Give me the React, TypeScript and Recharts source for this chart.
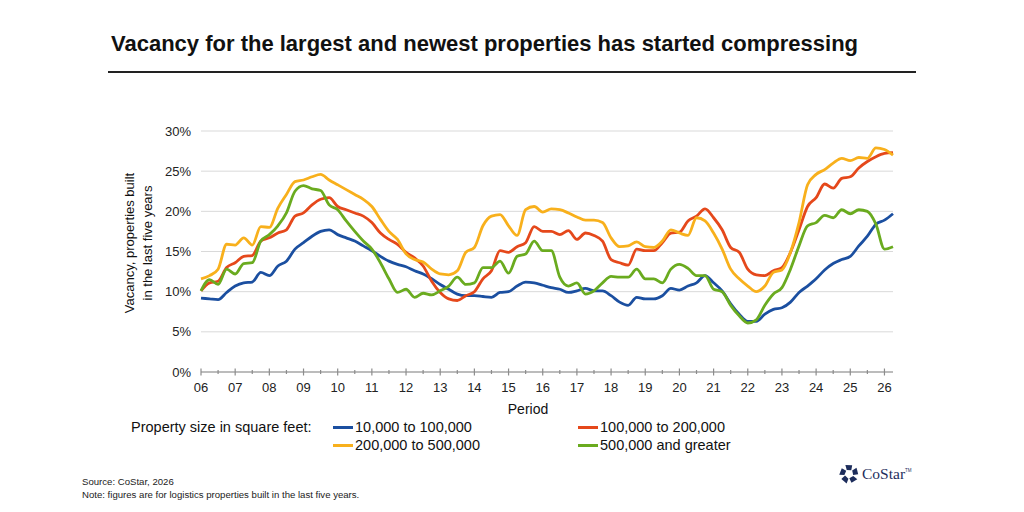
import React from 'react';
import { LineChart, Line, XAxis, YAxis, CartesianGrid, Legend } from 'recharts';

// Quarterly vacancy (%) for logistics properties built in the last five years,
// starting 2006 Q1 and ending 2026 Q2.
const START_YEAR = 2006;

const SMALL = [
  9.2, 9.1, 9.0, 9.9, 10.7, 11.1, 11.2, 12.4, 12.0, 13.2, 13.8, 15.3,
  16.1, 16.9, 17.5, 17.7, 17.1, 16.7, 16.3, 15.7, 15.1, 14.4, 13.8, 13.4,
  13.1, 12.6, 12.2, 11.6, 10.9, 10.3, 9.7, 9.5, 9.5, 9.4, 9.3, 9.9,
  10.0, 10.7, 11.2, 11.1, 10.8, 10.5, 10.3, 9.9, 10.1, 10.4, 10.1, 10.1,
  9.5, 8.7, 8.3, 9.3, 9.1, 9.1, 9.5, 10.4, 10.2, 10.7, 11.1, 12.0,
  11.1, 10.1, 8.5, 7.2, 6.3, 6.3, 7.2, 7.8, 8.0, 8.7, 9.9, 10.7,
  11.6, 12.7, 13.5, 14.0, 14.4, 15.7, 16.9, 18.4, 18.9, 19.7,
];

const MID = [
  10.1, 11.1, 11.3, 13.0, 13.6, 14.4, 14.5, 16.3, 16.7, 17.3, 17.7, 19.4,
  19.8, 20.8, 21.5, 21.7, 20.6, 20.2, 19.8, 19.4, 18.6, 17.3, 16.5, 15.9,
  14.9, 14.2, 13.2, 11.3, 9.9, 9.1, 8.9, 9.5, 10.0, 11.6, 12.6, 15.1,
  14.9, 15.6, 16.1, 18.1, 17.5, 17.5, 17.1, 17.6, 16.5, 17.3, 17.0, 16.3,
  14.0, 13.6, 13.3, 15.3, 15.1, 15.1, 16.1, 17.3, 17.4, 18.8, 19.4, 20.3,
  19.2, 17.7, 15.5, 14.9, 12.8, 12.1, 12.0, 12.6, 13.0, 14.9, 17.7, 20.6,
  21.7, 23.4, 22.9, 24.1, 24.3, 25.4, 26.2, 26.8, 27.2, 27.3,
];

const LARGE = [
  11.6, 12.0, 12.8, 15.9, 15.8, 16.7, 15.8, 18.1, 18.0, 20.4, 22.1, 23.7,
  23.9, 24.3, 24.6, 23.9, 23.3, 22.7, 22.1, 21.5, 20.6, 19.0, 17.5, 16.5,
  14.7, 14.0, 13.7, 12.8, 12.2, 12.1, 12.6, 14.9, 15.5, 18.2, 19.4, 19.6,
  18.2, 17.0, 20.2, 20.6, 19.9, 20.3, 20.2, 19.8, 19.3, 18.9, 18.9, 18.6,
  16.7, 15.6, 15.7, 16.2, 15.6, 15.5, 16.3, 17.7, 17.3, 17.0, 19.2, 18.8,
  17.3, 15.3, 12.8, 11.6, 10.7, 10.0, 10.7, 12.4, 12.7, 14.9, 18.6, 23.3,
  24.6, 25.2, 26.0, 26.6, 26.3, 26.7, 26.6, 27.9, 27.7, 27.0,
];

const HUGE = [
  10.1, 11.5, 10.9, 12.8, 12.2, 13.5, 13.6, 16.3, 17.1, 18.2, 19.8, 22.5,
  23.2, 22.8, 22.6, 20.8, 20.2, 18.8, 17.5, 16.3, 15.3, 13.6, 11.6, 9.9,
  10.3, 9.3, 9.8, 9.6, 10.1, 10.7, 11.8, 10.9, 11.1, 13.0, 13.0, 13.8,
  12.3, 14.4, 14.7, 16.3, 15.1, 15.1, 11.8, 10.7, 11.1, 9.7, 10.1, 11.1,
  11.9, 11.8, 11.8, 12.8, 11.6, 11.6, 11.1, 12.8, 13.4, 12.9, 12.0, 12.0,
  10.3, 10.0, 8.3, 7.0, 6.1, 6.5, 8.3, 9.7, 10.5, 12.8, 15.7, 18.2,
  18.6, 19.5, 19.2, 20.2, 19.7, 20.2, 20.0, 18.4, 15.3, 15.6,
];

const SERIES = [
  { key: 'small', name: '10,000 to 100,000', color: '#1b4fa0', values: SMALL },
  { key: 'mid', name: '100,000 to 200,000', color: '#e5481b', values: MID },
  { key: 'large', name: '200,000 to 500,000', color: '#f8b01c', values: LARGE },
  { key: 'huge', name: '500,000 and greater', color: '#6aab1f', values: HUGE },
];

// legend is laid out in two columns: small/large left, mid/huge right
const LEGEND_ORDER = [['small', 'large'], ['mid', 'huge']];

const Y_TICKS = [0, 5, 10, 15, 20, 25, 30];
const YEAR_LABELS = ['06', '07', '08', '09', '10', '11', '12', '13', '14', '15', '16',
  '17', '18', '19', '20', '21', '22', '23', '24', '25', '26'];

const FONT = '"Liberation Sans", Arial, sans-serif';

const data = SMALL.map((_, i) => {
  const row: Record<string, number> = { period: START_YEAR + i / 4 };
  SERIES.forEach((s) => {
    row[s.key] = s.values[i];
  });
  return row;
});

const lastPeriod = START_YEAR + (SMALL.length - 1) / 4;

// major tick each year, minor tick each half year
const xTicks: number[] = [];
YEAR_LABELS.forEach((_, i) => {
  xTicks.push(START_YEAR + i);
  if (START_YEAR + i + 0.5 <= lastPeriod) xTicks.push(START_YEAR + i + 0.5);
});

function PeriodTick({ x, y, payload }: any) {
  const v = payload.value as number;
  const major = Number.isInteger(v);
  const h = major ? 3.5 : 2;
  return (
    <g>
      <line x1={x} x2={x} y1={y - h} y2={y + h} stroke="#8c8c8c" strokeWidth={1.2} />
      {major && (
        <text x={x} y={y + 20} textAnchor="middle" fontSize={13} fill="#222" fontFamily={FONT}>
          {YEAR_LABELS[v - START_YEAR]}
        </text>
      )}
    </g>
  );
}

function SizeLegend() {
  const byKey = Object.fromEntries(SERIES.map((s) => [s.key, s]));
  const colLeft = [333, 578];
  const rowTop = [427, 445];
  return (
    <div style={{ position: 'relative', width: 1024, height: 60, fontFamily: FONT, fontSize: 14.5, color: '#111' }}>
      <div style={{ position: 'absolute', left: 131, top: rowTop[0] - 9, whiteSpace: 'nowrap', lineHeight: '18px' }}>
        Property size in square feet:
      </div>
      {LEGEND_ORDER.map((col, ci) =>
        col.map((k, ri) => (
          <div
            key={k}
            style={{ position: 'absolute', left: colLeft[ci], top: rowTop[ri] - 9, display: 'flex', alignItems: 'center', whiteSpace: 'nowrap', lineHeight: '18px' }}
          >
            <span style={{ width: 20, height: 3, background: byKey[k].color, marginRight: 2 }} />
            {byKey[k].name}
          </div>
        )),
      )}
    </div>
  );
}

function CoStarLogo() {
  const blades = [0, 72, 144, 216, 288];
  return (
    <div style={{ position: 'absolute', left: 839, top: 463, display: 'flex', alignItems: 'center' }}>
      <svg width={20} height={22} viewBox="-11 -12 22 24">
        {blades.map((a) => (
          <polygon key={a} points="-4,-10 3.5,-9.5 2.5,-4 -2.5,-4.5" fill="#1d2d5c" transform={`rotate(${a})`} />
        ))}
      </svg>
      <span style={{ fontFamily: '"Liberation Serif", "DejaVu Serif", serif', fontSize: 15.5, color: '#1d2d5c', marginLeft: 3 }}>
        CoStar
      </span>
      <span style={{ fontFamily: FONT, fontSize: 4.5, color: '#1d2d5c', alignSelf: 'flex-start', marginTop: 5 }}>TM</span>
    </div>
  );
}

export default function App() {
  return (
    <div style={{ position: 'absolute', left: 0, top: 0, width: 1024, height: 512, background: '#fff', fontFamily: FONT, overflow: 'hidden' }}>
      <div style={{ position: 'absolute', left: 111, top: 31, fontSize: 22, fontWeight: 'bold', color: '#111', whiteSpace: 'nowrap' }}>
        Vacancy for the largest and newest properties has started compressing
      </div>
      <div style={{ position: 'absolute', left: 108, top: 71, width: 808, height: 2, background: '#222' }} />

      <LineChart
        width={1024}
        height={512}
        data={data}
        margin={{ top: 131, right: 131, bottom: 109, left: 141 }}
        style={{ position: 'absolute', left: 0, top: 0 }}
      >
        <CartesianGrid vertical={false} stroke="#d9d9d9" />
        <XAxis
          dataKey="period"
          type="number"
          domain={[START_YEAR, lastPeriod]}
          ticks={xTicks}
          interval={0}
          tick={<PeriodTick />}
          tickLine={false}
          tickSize={0}
          tickMargin={0}
          height={30}
          axisLine={{ stroke: '#8c8c8c', strokeWidth: 1.2 }}
        />
        <YAxis
          domain={[0, 30]}
          ticks={Y_TICKS}
          interval={0}
          tickFormatter={(v: number) => `${v}%`}
          tick={{ fill: '#222', fontSize: 13, fontFamily: FONT }}
          axisLine={false}
          tickLine={false}
          tickSize={0}
          tickMargin={10}
          width={60}
        />
        <Legend
          content={<SizeLegend />}
          wrapperStyle={{ position: 'absolute', left: 0, top: 0, width: 1024, height: 1 }}
        />
        {SERIES.map((s) => (
          <Line
            key={s.key}
            type="monotone"
            dataKey={s.key}
            name={s.name}
            stroke={s.color}
            strokeWidth={2.8}
            dot={false}
            isAnimationActive={false}
          />
        ))}
      </LineChart>

      <div
        style={{
          position: 'absolute', left: 139, top: 243, width: 200, transform: 'translate(-50%, -50%) rotate(-90deg)',
          textAlign: 'center', fontSize: 13, lineHeight: '18px', color: '#111',
        }}
      >
        Vacancy, properties built
        <br />
        in the last five years
      </div>

      <div style={{ position: 'absolute', left: 528, top: 401, transform: 'translateX(-50%)', fontSize: 14, color: '#111' }}>
        Period
      </div>

      <div
        style={{
          position: 'absolute', left: 82, top: 475, fontFamily: '"Liberation Sans Narrow", "Arial Narrow", ' + FONT,
          fontSize: 9.6, lineHeight: '13px', color: '#222', whiteSpace: 'nowrap',
        }}
      >
        Source: CoStar, 2026
        <br />
        Note: figures are for logistics properties built in the last five years.
      </div>

      <CoStarLogo />
    </div>
  );
}
